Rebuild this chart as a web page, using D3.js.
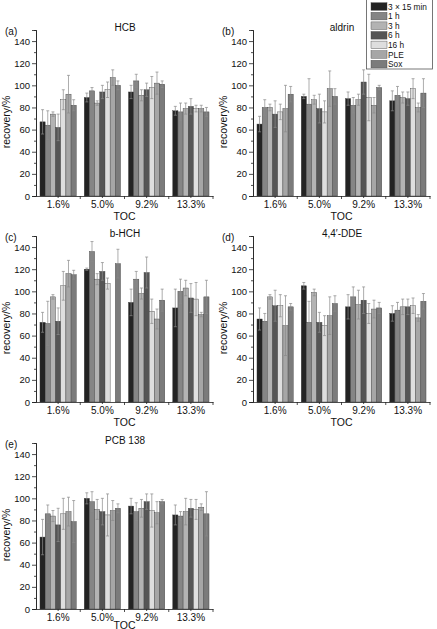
<!DOCTYPE html>
<html lang="en">
<head>
<meta charset="UTF-8" />
<title>Recovery vs TOC</title>
<script src="https://d3js.org/d3.v7.min.js"></script>
<style>
  body { margin: 0; background: #fff; }
  svg text { font-family: "Liberation Sans", Arial, sans-serif; fill: #111; }
  .axis path, .axis line { stroke: #222; stroke-width: 0.8; }
</style>
</head>
<body>
<svg id="chart" width="437" height="629"></svg>
<script>
// TOC groups and extraction series
const tocLabels = ["1.6%", "5.0%", "9.2%", "13.3%"];
const seriesNames = ["3 \u00d7 15 min", "1 h", "3 h", "6 h", "16 h", "PLE", "Sox"];
const seriesColors = ["#232323", "#858585", "#b3b3b3", "#555555", "#dedede", "#a6a6a6", "#7b7b7b"];
const yTicks = [0, 20, 40, 60, 80, 100, 120, 140];

// mean recovery (%) per TOC group, one value per series
const hcbMean = [[67, 64, 74, 62, 87, 92, 82], [89, 95, 84, 94, 96, 107, 100], [94, 104, 91, 96, 98, 102, 101], [77, 76, 79, 81, 79, 79, 76]];
const hcbErr = [[11, 13, 2, 12, 9, 17, 5], [4, 3, 2, 6, 7, 7, 4], [6, 6, 5, 6, 10, 10, 3], [4, 8, 5, 7, 3, 3, 4]];

const aldrinMean = [[65, 80, 80, 74, 76, 79, 92], [90, 83, 87, 79, 76, 97, 90], [88, 82, 87, 103, 89, 82, 98], [86, 91, 89, 88, 97, 80, 93]];
const aldrinErr = [[7, 7, 3, 12, 7, 21, 7], [2, 23, 4, 13, 10, 16, 7], [6, 7, 5, 11, 21, 7, 2], [9, 8, 5, 6, 9, 4, 13]];

const bhchMean = [[72, 71, 95, 73, 105, 116, 115], [120, 136, 111, 118, 107, null, 125], [90, 111, 98, 117, 82, 75, 92], [85, 100, 103, 94, 93, 79, 95]];
const bhchErr = [[9, 20, 2, 12, 13, 12, 4], [1, 9, 5, 8, 5, 0, 13], [12, 7, 5, 14, 11, 9, 10], [17, 11, 7, 13, 15, 2, 15]];

const ddeMean = [[75, 73, 95, 87, 87, 69, 86], [105, 72, 99, 72, 69, 78, 89], [86, 95, 88, 92, 80, 84, 85], [80, 83, 86, 86, 87, 76, 91]];
const ddeErr = [[10, 7, 2, 14, 10, 27, 3], [3, 19, 3, 9, 9, 17, 7], [11, 9, 13, 12, 9, 8, 5], [7, 7, 7, 7, 7, 3, 7]];

const pcbMean = [[65, 86, 84, 76, 86, 88, 79], [100, 97, 90, 88, 85, 89, 91], [93, 88, 91, 97, 89, 87, 97], [85, 84, 88, 91, 90, 92, 86]];
const pcbErr = [[16, 8, 5, 15, 14, 13, 19], [5, 9, 9, 12, 19, 9, 4], [7, 8, 8, 7, 15, 10, 2], [9, 4, 12, 8, 9, 3, 20]];

const panels = [
  { tag: "(a)", title: "HCB", mean: hcbMean, err: hcbErr, x: 36, y0: 196 },
  { tag: "(b)", title: "aldrin", mean: aldrinMean, err: aldrinErr, x: 253, y0: 196 },
  { tag: "(c)", title: "b-HCH", mean: bhchMean, err: bhchErr, x: 36, y0: 402 },
  { tag: "(d)", title: "4,4\u2032-DDE", mean: ddeMean, err: ddeErr, x: 253, y0: 402 },
  { tag: "(e)", title: "PCB 138", mean: pcbMean, err: pcbErr, x: 36, y0: 609 }
];

const svg = d3.select("#chart");
const plotW = 177, plotH = 166;

panels.forEach((p, pi) => {
  const g = svg.append("g").attr("transform", `translate(${p.x},${p.y0 - plotH})`);

  const yScale = d3.scaleLinear().domain([0, 150]).range([plotH, 0]);
  const xScale = d3.scaleBand().domain(tocLabels).range([0, plotW])
    .paddingInner(0.18).paddingOuter(0.09);
  const sScale = d3.scaleBand().domain(seriesNames).range([0, xScale.bandwidth()]);

  // bars
  tocLabels.forEach((toc, gi) => {
    const grp = g.append("g").attr("transform", `translate(${xScale(toc)},0)`);
    seriesNames.forEach((s, si) => {
      const v = p.mean[gi][si];
      if (v == null) return;
      grp.append("rect")
        .attr("x", sScale(s))
        .attr("y", yScale(v))
        .attr("width", sScale.bandwidth())
        .attr("height", yScale(0) - yScale(v))
        .attr("fill", seriesColors[si])
        .attr("stroke", "#3a3a3a")
        .attr("stroke-width", 0.4);
    });
    // error bars
    seriesNames.forEach((s, si) => {
      const v = p.mean[gi][si], e = p.err[gi][si];
      if (v == null || !e) return;
      const cx = sScale(s) + sScale.bandwidth() / 2;
      grp.append("line")
        .attr("x1", cx).attr("x2", cx)
        .attr("y1", yScale(v - e)).attr("y2", yScale(v + e))
        .attr("stroke", "#8a8a8a").attr("stroke-width", 0.7);
      [v - e, v + e].forEach(t => {
        grp.append("line")
          .attr("x1", cx - 1.5).attr("x2", cx + 1.5)
          .attr("y1", yScale(t)).attr("y2", yScale(t))
          .attr("stroke", "#8a8a8a").attr("stroke-width", 0.7);
      });
    });
  });

  // y axis with minor ticks
  g.append("g").attr("class", "axis")
    .call(d3.axisLeft(yScale).tickValues(d3.range(10, 150, 20)).tickSize(2).tickFormat(""));
  g.append("g").attr("class", "axis")
    .call(d3.axisLeft(yScale).tickValues(yTicks).tickSize(4).tickPadding(2))
    .call(a => a.selectAll("text").style("font-size", "9.5px"));

  // x axis
  const xAxis = g.append("g").attr("class", "axis")
    .attr("transform", `translate(0,${plotH})`)
    .call(d3.axisBottom(xScale).tickSize(2).tickPadding(3).tickSizeOuter(0));
  xAxis.selectAll("text").style("font-size", "10px");
  xAxis.selectAll(".bound").data(d3.range(1, 5))
    .join("line")
    .attr("x1", i => i * xScale.step()).attr("x2", i => i * xScale.step())
    .attr("y1", 0).attr("y2", 3)
    .attr("stroke", "#222").attr("stroke-width", 0.8);

  // last panel sits at the bottom edge, so its TOC label is lifted a bit
  g.append("text")
    .attr("x", plotW / 2).attr("y", plotH + (pi === 4 ? 19.5 : 24))
    .attr("text-anchor", "middle").style("font-size", "10.5px")
    .text("TOC");

  g.append("text")
    .attr("transform", `translate(${-26},${plotH - 74}) rotate(-90)`)
    .attr("text-anchor", "middle").style("font-size", "10.5px")
    .text("recovery/%");

  g.append("text")
    .attr("x", 89).attr("y", 1)
    .attr("text-anchor", "middle").style("font-size", "10px")
    .text(p.title);

  g.append("text")
    .attr("x", -31).attr("y", 5)
    .style("font-size", "10px")
    .text(p.tag);
});

// legend
const legend = svg.append("g").attr("transform", "translate(366,0)");
legend.append("rect")
  .attr("x", 0.5).attr("y", -1).attr("width", 66).attr("height", 70)
  .attr("fill", "#fff").attr("stroke", "#555").attr("stroke-width", 0.8);
seriesNames.forEach((s, i) => {
  const yc = 6.5 + i * 9.6;
  legend.append("rect")
    .attr("x", 5).attr("y", yc - 3.8).attr("width", 16).attr("height", 7.6)
    .attr("fill", seriesColors[i]).attr("stroke", "#444").attr("stroke-width", 0.4);
  legend.append("text")
    .attr("x", 22).attr("y", yc + 3)
    .style("font-size", "8.3px")
    .text(s);
});
</script>
</body>
</html>
